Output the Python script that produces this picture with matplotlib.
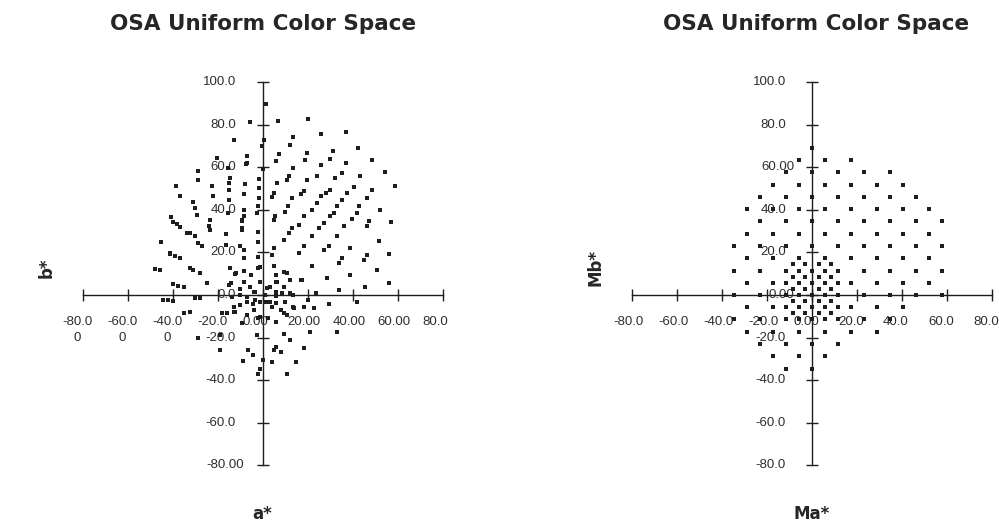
import matplotlib
matplotlib.use("Agg")
import matplotlib.pyplot as plt
import numpy as np

# ---------------------------------------------------------------
# Left panel: OSA samples plotted in CIELAB (a*, b*)
# ---------------------------------------------------------------
LAB_POINTS = [
    (1.4, 89.6), (-5.5, 81.3), (7.0, 81.7), (20.3, 82.5), (0.7, 73.0),
    (-12.7, 72.8), (-0.4, 70.0), (13.6, 74.2), (26.1, 75.5), (37.3, 76.6),
    (12.4, 70.4), (31.4, 67.6), (42.4, 69.2), (-6.8, 65.2), (-20.2, 64.5),
    (5.8, 62.9), (7.2, 66.0), (19.6, 66.5), (18.7, 63.4), (29.9, 64.0),
    (37.3, 62.1), (48.6, 63.4), (-7.4, 61.6), (-15.5, 59.8), (-28.5, 58.2),
    (0.0, 59.3), (13.6, 59.8), (26.1, 60.8), (35.4, 57.4), (43.2, 56.1),
    (54.4, 57.9), (-14.4, 55.0), (-28.5, 53.9), (-1.4, 54.6), (11.7, 55.8),
    (24.0, 56.1), (32.1, 55.0), (-38.5, 51.4), (-22.5, 51.4), (-15.1, 52.7),
    (-7.7, 51.9), (6.5, 52.7), (11.0, 53.9), (19.6, 53.9), (-1.4, 50.3),
    (58.8, 51.4), (40.6, 50.8), (48.6, 49.5), (29.9, 49.5), (28.0, 48.0),
    (25.8, 46.7), (18.4, 48.7), (16.9, 47.2), (13.2, 45.6), (4.9, 48.0),
    (4.2, 46.1), (37.6, 48.0), (35.4, 44.8), (46.5, 45.6), (-36.7, 46.7),
    (-22.0, 46.4), (-8.1, 47.2), (-15.1, 44.8), (-31.0, 43.5), (-1.4, 45.6),
    (24.0, 43.3), (11.2, 42.0), (32.9, 42.0), (42.8, 41.7), (-29.8, 40.9),
    (-29.0, 37.7), (-15.5, 38.5), (-8.4, 40.1), (-8.4, 36.9), (-1.9, 41.7),
    (-2.6, 38.5), (5.6, 36.9), (10.2, 38.8), (22.1, 40.1), (31.7, 38.5),
    (30.2, 36.9), (52.4, 40.1), (41.8, 38.5), (18.4, 36.9), (39.8, 35.7),
    (-40.8, 36.5), (-39.7, 34.1), (-36.7, 31.7), (-23.4, 35.4), (-23.6, 32.2),
    (-9.2, 34.6), (5.0, 35.4), (16.1, 33.0), (27.2, 33.8), (47.3, 34.6),
    (56.9, 34.1), (12.9, 31.4), (25.0, 31.4), (36.1, 32.2), (46.5, 32.2),
    (-32.2, 29.1), (-30.0, 27.5), (-23.4, 30.7), (-16.2, 28.6), (-9.2, 30.7),
    (-1.9, 29.6), (-45.2, 25.1), (-28.5, 24.4), (-27.0, 22.8), (-16.2, 23.6),
    (-10.0, 22.8), (-1.9, 25.1), (4.9, 22.3), (-41.1, 19.2), (-38.9, 18.5),
    (-36.7, 17.3), (-8.4, 21.2), (-8.4, 17.3), (-1.9, 18.0), (4.1, 18.9),
    (-32.2, 12.9), (-30.7, 11.8), (-27.8, 10.5), (-47.8, 12.3), (-45.6, 11.8),
    (-14.4, 12.6), (-12.2, 9.8), (-8.4, 11.3), (-1.9, 12.6), (5.8, 9.4),
    (-39.7, 5.0), (-37.5, 4.4), (-34.7, 3.9), (-24.8, 5.5), (-15.1, 4.7),
    (-10.2, 2.8), (-5.5, 3.9), (-3.3, 1.6), (3.4, 3.9), (5.8, 1.6),
    (-44.3, -2.4), (-42.2, -2.4), (-39.7, -2.8), (-30.0, -1.3), (-28.0, -1.6),
    (-13.6, -0.8), (-10.2, 0.0), (-6.9, -0.8), (-3.3, -2.4), (1.1, 0.0),
    (5.8, -0.3), (-10.2, -4.7), (-4.1, -4.0), (1.6, -3.1), (4.1, -5.5),
    (-35.1, -8.6), (-32.2, -7.9), (-18.0, -8.6), (-15.8, -8.6), (-12.2, -8.2),
    (-6.9, -9.4), (-1.9, -11.0), (2.6, -10.7), (5.8, -12.6), (-28.5, -20.4),
    (-18.9, -18.9), (-18.9, -25.9), (-6.3, -25.9), (-4.1, -28.3), (4.9, -25.9),
    (-8.8, -31.1), (0.4, -30.7), (4.1, -31.5), (-1.1, -34.6), (-1.9, -36.9),
    (51.7, 25.5), (56.1, 19.2), (9.5, 25.9), (11.7, 29.1), (18.4, 22.8),
    (16.1, 19.7), (22.1, 27.5), (27.2, 21.2), (29.5, 22.8), (22.1, 13.4),
    (33.2, 27.5), (39.1, 22.1), (33.9, 15.0), (35.4, 17.3), (45.0, 16.5),
    (46.5, 18.9), (51.0, 11.8), (39.1, 9.4), (56.1, 5.5), (45.6, 3.9),
    (28.7, 7.9), (17.6, 7.1), (5.0, 13.4), (9.5, 11.0), (12.4, 7.1),
    (5.8, 6.3), (9.5, 3.9), (12.4, 0.8), (23.6, 0.8), (33.9, 2.4),
    (42.1, -3.1), (29.5, -4.4), (18.4, -5.5), (13.9, -6.0), (10.2, -3.1),
    (5.8, -3.9), (9.5, -8.6), (21.3, -17.6), (33.2, -17.3), (9.5, -18.1),
    (12.4, -21.2), (5.8, -24.4), (8.0, -26.7), (18.4, -25.1), (14.7, -31.5),
    (11.0, -36.9), (-12.8, -7.8), (-9.1, -13.3), (-1.1, -10.2), (10.9, -9.4),
    (22.8, -6.3), (-2.4, -18.9), (-12.0, 10.2), (-5.3, 9.4), (-1.1, 13.3),
    (10.9, 10.2), (16.9, 7.0), (6.5, 6.2), (-1.1, 6.2), (-8.3, 6.2),
    (-14.2, 5.8), (2.0, 3.1), (-4.0, 1.6), (8.6, 0.8), (13.6, 0.0),
    (20.3, -2.3), (-1.1, -3.1), (3.4, -3.1), (-7.0, -3.1), (-12.8, -5.5),
    (-4.0, -7.0), (8.0, -7.0), (13.6, -5.5), (-6.8, 62.0), (-15.0, 49.3),
    (-9.0, 35.4), (-9.0, 31.4), (-33.5, 29.2), (-37.9, 33.1), (-40.9, 19.6),
]
LAB_A = [p[0] for p in LAB_POINTS]
LAB_B = [p[1] for p in LAB_POINTS]

LAB_XTICKS = [-80, -60, -40, -20, 0, 20, 40, 60, 80]
LAB_XLABELS = ["-80.0\n0", "-60.0\n0", "-40.0\n0", "-20.0", "0.00",
               "20.00", "40.00", "60.00", "80.0"]
LAB_YTICKS = [100, 80, 60, 40, 20, 0, -20, -40, -60, -80]
LAB_YLABELS = ["100.0", "80.0", "60.0", "40.0", "20.0", "0.0",
               "-20.0", "-40.0", "-60.0", "-80.00"]

# ---------------------------------------------------------------
# Right panel: OSA samples in the (Ma*, Mb*) plane, listed by row
# ---------------------------------------------------------------
OSA_MB_ROWS = [69.1, 63.4, 57.6, 51.8, 46.1, 40.3, 34.6, 28.8, 23.0,
               17.3, 11.5, 5.8, 0.0, -5.8, -11.5, -17.3, -23.0, -28.8, -34.6]
OSA_MA_ROWS = [
    [0.0],
    [-5.8, 5.8, 17.3],
    [-11.5, 0.0, 11.5, 23.0, 34.6],
    [-17.3, -5.8, 5.8, 17.3, 28.8, 40.3],
    [-23.0, -11.5, 0.0, 11.5, 23.0, 34.6, 46.1],
    [-28.8, -17.3, -5.8, 5.8, 17.3, 28.8, 40.3, 51.8],
    [-23.0, -11.5, 0.0, 11.5, 23.0, 34.6, 46.1, 57.6],
    [-28.8, -17.3, -5.8, 5.8, 17.3, 28.8, 40.3, 51.8],
    [-34.6, -23.0, -11.5, 0.0, 11.5, 23.0, 34.6, 46.1, 57.6],
    [-28.8, -17.3, -5.8, 5.8, 17.3, 28.8, 40.3, 51.8],
    [-34.6, -23.0, -11.5, 0.0, 11.5, 23.0, 34.6, 46.1, 57.6],
    [-28.8, -17.3, -5.8, 5.8, 17.3, 28.8, 40.3, 51.8],
    [-34.6, -23.0, -11.5, 0.0, 11.5, 23.0, 34.6, 46.1, 57.6],
    [-28.8, -17.3, -5.8, 5.8, 17.3, 28.8, 40.3],
    [-34.6, -23.0, -11.5, 0.0, 11.5, 23.0, 34.6],
    [-28.8, -17.3, -5.8, 5.8, 17.3, 28.8],
    [-23.0, -11.5, 0.0, 11.5],
    [-17.3, -5.8, 5.8],
    [-11.5, 0.0],
]
# denser group of samples close to the neutral axis
OSA_CORE_MB = [14.4, 11.5, 8.6, 5.8, 2.9, 0.0, -2.9, -5.8, -8.6, -11.5]
OSA_CORE_MA = [
    [-8.6, -2.9, 2.9, 8.6],
    [-5.8, 0.0, 5.8],
    [-8.6, -2.9, 2.9, 8.6],
    [-11.5, -5.8, 0.0, 5.8, 11.5],
    [-8.6, -2.9, 2.9, 8.6],
    [-11.5, -5.8, 0.0, 5.8, 11.5],
    [-8.6, -2.9, 2.9, 8.6],
    [-11.5, -5.8, 0.0, 5.8, 11.5],
    [-8.6, -2.9, 2.9, 8.6],
    [-5.8, 0.0, 5.8],
]

OSA_XTICKS = [-80, -60, -40, -20, 0, 20, 40, 60, 80]
OSA_XLABELS = ["-80.0", "-60.0", "-40.0", "-20.0", "0.00",
               "20.0", "40.0", "60.0", "80.0"]
OSA_YTICKS = [100, 80, 60, 40, 20, 0, -20, -40, -60, -80]
OSA_YLABELS = ["100.0", "80.0", "60.00", "40.0", "20.0", "0.00",
               "-20.0", "-40.0", "-60.0", "-80.0"]

osa_ma, osa_mb = [], []
for mb, row in zip(OSA_MB_ROWS, OSA_MA_ROWS):
    osa_ma += row
    osa_mb += [mb] * len(row)
for mb, row in zip(OSA_CORE_MB, OSA_CORE_MA):
    osa_ma += row
    osa_mb += [mb] * len(row)

# ---------------------------------------------------------------
W, H, DPI = 999, 527, 100
PT = 72.0 / DPI  # points per pixel
fig = plt.figure(figsize=(W / DPI, H / DPI), dpi=DPI)
fig.patch.set_facecolor("white")

INK = "#1e1e1e"
TICKFONT = dict(family="Liberation Sans", size=9.5, color="#2e2e2e")
PX_X = 2.25      # pixels per data unit, horizontal
PX_Y = 2.13      # pixels per data unit, vertical
XLIM = (-90, 90)
YLIM = (-90, 110)


def make_axes(cx, cy):
    """Axes whose data origin sits at pixel (cx, cy) measured from top-left."""
    left = cx + XLIM[0] * PX_X
    width = (XLIM[1] - XLIM[0]) * PX_X
    top = cy - YLIM[1] * PX_Y
    height = (YLIM[1] - YLIM[0]) * PX_Y
    ax = fig.add_axes([left / W, 1 - (top + height) / H, width / W, height / H])
    ax.set_xlim(*XLIM)
    ax.set_ylim(*YLIM)
    ax.axis("off")
    return ax


def two_decimals(lab):
    return len(lab.split("\n")[0].split(".")[-1]) == 2


def draw_frame(ax, xticks, xlabels, yticks, ylabels, xl_shift, yl_right):
    lw = 1.0
    ax.plot([min(xticks), max(xticks)], [0, 0], color=INK, lw=lw, zorder=2)
    ax.plot([0, 0], [min(yticks), max(yticks)], color=INK, lw=lw, zorder=2)
    ax.plot(xticks, [0] * len(xticks), ls="none", marker="|", ms=9,
            mew=lw, color=INK, zorder=2)
    ax.plot([0] * len(yticks), yticks, ls="none", marker="_", ms=9,
            mew=lw, color=INK, zorder=2)
    # x labels: block starts a fixed distance left of the tick
    for t, lab in zip(xticks, xlabels):
        ax.annotate(lab, (t, 0), xytext=(xl_shift * PT, -21 * PT),
                    textcoords="offset points", ha="left", va="top",
                    multialignment="center", linespacing=1.45, **TICKFONT)
    # y labels: right aligned, labels with an extra decimal run further right
    for t, lab in zip(yticks, ylabels):
        dx = yl_right + (8 if two_decimals(lab) else 0)
        ax.annotate(lab, (0, t), xytext=(dx * PT, 0),
                    textcoords="offset points", ha="right", va="center",
                    **TICKFONT)


ax1 = make_axes(262.5, 295)
draw_frame(ax1, LAB_XTICKS, LAB_XLABELS, LAB_YTICKS, LAB_YLABELS,
           xl_shift=-20, yl_right=-26.5)
ax1.plot(LAB_A, LAB_B, ls="none", marker="s", ms=3.5, color=INK, mew=0,
         zorder=3)

ax2 = make_axes(812, 295)
draw_frame(ax2, OSA_XTICKS, OSA_XLABELS, OSA_YTICKS, OSA_YLABELS,
           xl_shift=-19, yl_right=-26)
ax2.plot(osa_ma, osa_mb, ls="none", marker="s", ms=3.5, color=INK, mew=0,
         zorder=3)

TITLE = dict(family="DejaVu Sans", weight="bold", size=15.5, color="#262626")
LABEL = dict(family="DejaVu Sans", weight="bold", size=12, color="#262626")
fig.text(263 / W, 1 - 30 / H, "OSA Uniform Color Space", ha="center",
         va="baseline", **TITLE)
fig.text(816 / W, 1 - 30 / H, "OSA Uniform Color Space", ha="center",
         va="baseline", **TITLE)
fig.text(47 / W, 1 - 268 / H, "b*", rotation=90, ha="center", va="center",
         **LABEL)
fig.text(262.5 / W, 1 - 514 / H, "a*", ha="center", va="center", **LABEL)
fig.text(596 / W, 1 - 268 / H, "Mb*", rotation=90, ha="center", va="center",
         **LABEL)
fig.text(812 / W, 1 - 514 / H, "Ma*", ha="center", va="center", **LABEL)

fig.savefig("out.png", dpi=DPI, facecolor="white")
